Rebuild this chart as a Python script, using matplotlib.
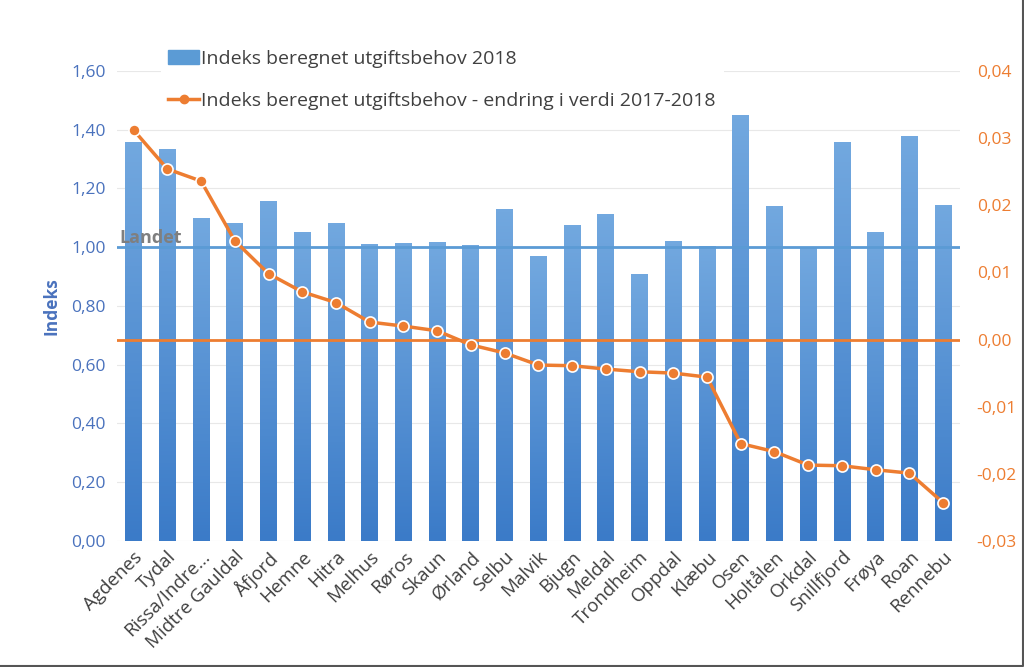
import numpy as np
import matplotlib.pyplot as plt
from matplotlib.colors import LinearSegmentedColormap
from matplotlib.lines import Line2D

plt.rcParams['font.family'] = ['Open Sans', 'DejaVu Sans']

# data
kommuner = ['Agdenes', 'Tydal', 'Rissa/Indre...', 'Midtre Gauldal', 'Åfjord', 'Hemne',
            'Hitra', 'Melhus', 'Røros', 'Skaun', 'Ørland', 'Selbu', 'Malvik', 'Bjugn',
            'Meldal', 'Trondheim', 'Oppdal', 'Klæbu', 'Osen', 'Holtålen', 'Orkdal',
            'Snillfjord', 'Frøya', 'Roan', 'Rennebu']
indeks = [1.358, 1.334, 1.100, 1.083, 1.157, 1.052, 1.083, 1.011, 1.014, 1.018,
          1.008, 1.130, 0.970, 1.076, 1.113, 0.909, 1.021, 1.004, 1.450, 1.140,
          1.001, 1.358, 1.052, 1.379, 1.144]
endring = [0.0312, 0.0254, 0.0236, 0.0147, 0.0098, 0.0071, 0.0055, 0.0026, 0.0020,
           0.0013, -0.0008, -0.0020, -0.0038, -0.0039, -0.0044, -0.0048, -0.0050,
           -0.0056, -0.0155, -0.0167, -0.0187, -0.0188, -0.0194, -0.0199, -0.0243]
landet = 1.0

blue_txt = '#4a72bd'
orange = '#ed7d31'

fig = plt.figure(figsize=(10.24, 6.67), dpi=100)
ax = fig.add_axes([0.114, 0.189, 0.8235, 0.7046])

x = np.arange(len(kommuner))
bars = ax.bar(x, indeks, width=0.5, color='none', zorder=2)

# gradient i søylene
cmap = LinearSegmentedColormap.from_list('g', ['#3b7bc8', '#72a8df'])
grad = np.linspace(0, 1, 100).reshape(-1, 1)
for b in bars:
    x0, h, w = b.get_x(), b.get_height(), b.get_width()
    im = ax.imshow(grad, extent=[x0, x0 + w, 0, h], origin='lower', aspect='auto',
                   cmap=cmap, zorder=2)
    im.set_clip_path(b)

ax.set_xlim(-0.5, len(kommuner) - 0.5)
ax.set_ylim(0, 1.6)
ax.set_yticks(np.arange(0, 1.61, 0.2))
ax.set_yticklabels([f'{v:.2f}'.replace('.', ',') for v in np.arange(0, 1.61, 0.2)],
                   color=blue_txt, fontsize=12.5)
ax.grid(axis='y', color='#e8e8e8', lw=0.8, zorder=0)
ax.set_axisbelow(True)
ax.set_xticks(x)
ax.set_xticklabels(kommuner, rotation=45, ha='right', rotation_mode='anchor',
                   fontsize=13.5, color='#404040')
ax.tick_params(axis='y', length=0, pad=8)
ax.tick_params(axis='x', length=0, pad=5)
ax.set_ylabel('Indeks', color=blue_txt, fontweight='bold', fontsize=12.5, labelpad=8)
for s in ax.spines.values():
    s.set_visible(False)

ax.axhline(landet, color='#5b9bd5', lw=2, zorder=3, xmin=0, xmax=1)
ax.text(-0.42, 1.03, 'Landet', color='#7f7f7f', fontweight='bold',
        fontsize=13, va='center', ha='left', zorder=4)

ax2 = ax.twinx()
ax2.set_ylim(-0.03, 0.04)
rt = np.arange(-0.03, 0.041, 0.01)
ax2.set_yticks(rt)
ax2.set_yticklabels([f'{v:.2f}'.replace('.', ',').replace('-0,00', '0,00') for v in rt],
                    color=orange, fontsize=12.5)
ax2.tick_params(length=0, pad=12)
for s in ax2.spines.values():
    s.set_visible(False)
ax2.axhline(0, color=orange, lw=2, zorder=2)
ax2.plot(x, endring, color=orange, lw=2.5, marker='o', markersize=8,
         markerfacecolor=orange, markeredgecolor='white', markeredgewidth=1.2, zorder=3)

# forklaring
h1 = plt.Rectangle((0, 0), 1, 1, color='#5b9bd5')
h2 = Line2D([], [], color=orange, lw=2.5, marker='o', markersize=6,
            markerfacecolor=orange, markeredgecolor=orange)
leg = ax2.legend([h1, h2], ['Indeks beregnet utgiftsbehov 2018',
                            'Indeks beregnet utgiftsbehov - endring i verdi 2017-2018'],
                 loc='upper left', bbox_to_anchor=(0.052, 1.062), fontsize=14,
                 frameon=True, facecolor='white', edgecolor='none', framealpha=1,
                 labelspacing=1.25, handlelength=1.6, handletextpad=0.1,
                 borderaxespad=0)
for t in leg.get_texts():
    t.set_color('#404040')

# kant nede og til høyre
fig.add_artist(Line2D([0, 0.999, 0.999], [0.002, 0.002, 1], transform=fig.transFigure,
                      color='#555555', lw=1.5))

fig.savefig('out.png', dpi=100)
